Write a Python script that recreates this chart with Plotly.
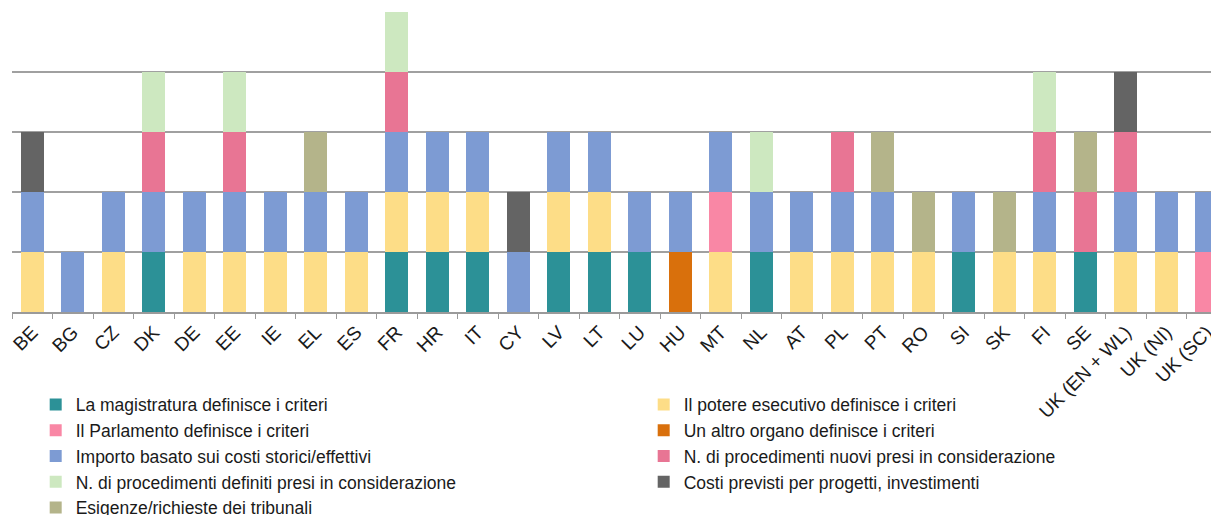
import plotly.graph_objects as go

countries = ["BE", "BG", "CZ", "DK", "DE", "EE", "IE", "EL", "ES", "FR", "HR", "IT", "CY",
             "LV", "LT", "LU", "HU", "MT", "NL", "AT", "PL", "PT", "RO", "SI", "SK", "FI",
             "SE", "UK (EN + WL)", "UK (NI)", "UK (SC)"]

#                 BE BG CZ DK DE EE IE EL ES FR HR IT CY LV LT LU HU MT NL AT PL PT RO SI SK FI SE EW NI SC
magistratura   = [0, 0, 0, 1, 0, 0, 0, 0, 0, 1, 1, 1, 0, 1, 1, 1, 0, 0, 1, 0, 0, 0, 0, 1, 0, 0, 1, 0, 0, 0]
esecutivo      = [1, 0, 1, 0, 1, 1, 1, 1, 1, 1, 1, 1, 0, 1, 1, 0, 0, 1, 0, 1, 1, 1, 1, 0, 1, 1, 0, 1, 1, 0]
parlamento     = [0, 0, 0, 0, 0, 0, 0, 0, 0, 0, 0, 0, 0, 0, 0, 0, 0, 1, 0, 0, 0, 0, 0, 0, 0, 0, 0, 0, 0, 1]
altro_organo   = [0, 0, 0, 0, 0, 0, 0, 0, 0, 0, 0, 0, 0, 0, 0, 0, 1, 0, 0, 0, 0, 0, 0, 0, 0, 0, 0, 0, 0, 0]
importo        = [1, 1, 1, 1, 1, 1, 1, 1, 1, 1, 1, 1, 1, 1, 1, 1, 1, 1, 1, 1, 1, 1, 0, 1, 0, 1, 0, 1, 1, 1]
proc_nuovi     = [0, 0, 0, 1, 0, 1, 0, 0, 0, 1, 0, 0, 0, 0, 0, 0, 0, 0, 0, 0, 1, 0, 0, 0, 0, 1, 1, 1, 0, 0]
proc_definiti  = [0, 0, 0, 1, 0, 1, 0, 0, 0, 1, 0, 0, 0, 0, 0, 0, 0, 0, 1, 0, 0, 0, 0, 0, 0, 1, 0, 0, 0, 0]
costi_previsti = [1, 0, 0, 0, 0, 0, 0, 0, 0, 0, 0, 0, 1, 0, 0, 0, 0, 0, 0, 0, 0, 0, 0, 0, 0, 0, 0, 1, 0, 0]
esigenze       = [0, 0, 0, 0, 0, 0, 0, 1, 0, 0, 0, 0, 0, 0, 0, 0, 0, 0, 0, 0, 0, 1, 1, 0, 1, 0, 1, 0, 0, 0]

series = [
    ("La magistratura definisce i criteri", magistratura, "#2C9197"),
    ("Il potere esecutivo definisce i criteri", esecutivo, "#FDDD87"),
    ("Il Parlamento definisce i criteri", parlamento, "#F987A5"),
    ("Un altro organo definisce i criteri", altro_organo, "#D9700C"),
    ("Importo basato sui costi storici/effettivi", importo, "#7D9BD3"),
    ("N. di procedimenti nuovi presi in considerazione", proc_nuovi, "#E87594"),
    ("N. di procedimenti definiti presi in considerazione", proc_definiti, "#CDE8C0"),
    ("Costi previsti per progetti, investimenti", costi_previsti, "#646464"),
    ("Esigenze/richieste dei tribunali", esigenze, "#B4B48A"),
]

fig = go.Figure()
for name, vals, color in series:
    fig.add_trace(go.Bar(x=countries, y=vals, name=name,
                         marker=dict(color=color, line=dict(width=0))))

fig.update_layout(
    width=1219, height=515,
    barmode="stack", bargap=0.425,
    margin=dict(l=4, r=0, t=4, b=211, autoexpand=False),
    paper_bgcolor="white", plot_bgcolor="white",
    font=dict(family="Liberation Sans, Arial, sans-serif", color="#1a1a1a"),
    showlegend=True,
    legend=dict(orientation="h", x=0.0195, y=-0.249, xanchor="left", yanchor="top",
                entrywidth=563, entrywidthmode="pixels", traceorder="normal",
                font=dict(size=17.5, color="#1a1a1a"), itemwidth=30,
                bgcolor="rgba(0,0,0,0)"),
    xaxis=dict(range=[-0.5, 29.5], tickangle=-45, autotickangles=[-45], automargin=False,
               tickfont=dict(size=19, color="#1a1a1a"),
               showline=True, linecolor="#9a9a9a", linewidth=1.5,
               ticks="outside", tickson="boundaries", ticklen=5, tickcolor="#9a9a9a",
               showgrid=False),
    yaxis=dict(range=[0, 5], dtick=1, showticklabels=False, showgrid=True, automargin=False,
               gridcolor="#a0a0a0", gridwidth=1.5, zeroline=False, showline=False),
)

fig.write_html("out.html")
